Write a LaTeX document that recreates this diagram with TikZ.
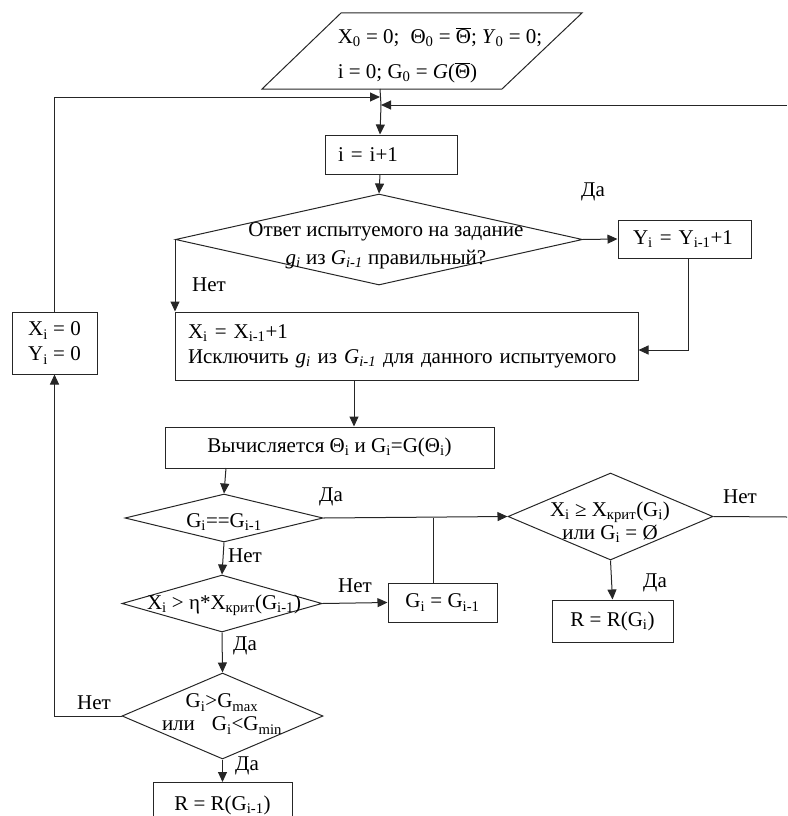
\documentclass[tikz,border=0pt]{standalone}
\usepackage{fontspec}
\setmainfont{Liberation Serif}
\usetikzlibrary{shapes.geometric,arrows.meta}
\newcommand{\sbs}[1]{\textsubscript{#1}}
\newcommand{\obar}{$\overline{\hbox{Θ}}$}
\begin{document}
\begin{tikzpicture}[x=1pt,y=-1pt,
  every node/.style={font=\fontsize{21}{25}\selectfont, inner sep=0pt},
  ln/.style={draw=black!85, line width=1pt},
  arr/.style={ln, -{Triangle[length=10pt,width=9pt]}},
  box/.style={draw=black!85, line width=1pt, rectangle},
  dia/.style={draw=black!85, line width=1pt, diamond, inner sep=0pt},
  lbl/.style={font=\fontsize{21}{22}\selectfont}]
\useasboundingbox (0,0) rectangle (787,816);

% parallelogram
\draw[ln] (341,13) -- (582,13) -- (502,89) -- (262,89) -- cycle;
\node[align=left, font=\fontsize{21}{35}\selectfont] (p) at (440,55) {X\sbs{0} = 0;\; Θ\sbs{0} = \obar; \textit{Y}\sbs{0} = 0;\\i = 0; G\sbs{0} = \textit{G}(\obar)};
\coordinate (pb) at (380,89);
\coordinate (j1) at (380,97);
\coordinate (j2) at (381,105);
\coordinate (r1) at (787,105);
\coordinate (r2) at (787,517);

% boxes
\node[box, minimum width=132pt, minimum height=39pt, inner xsep=13pt, text width=106pt, align=left] (inc) at (391,154.5) {i = i+1};
\node[dia, minimum width=407pt, minimum height=91pt] (d1) at (379,239.5) {};
\node[align=center, font=\fontsize{21}{28}\selectfont] (d1t) at (386,246) {Ответ испытуемого на задание\\\textit{g\sbs{i}} из \textit{G\sbs{i-1}} правильный?};
\node[box, minimum width=133pt, minimum height=38pt, inner xsep=15pt, text width=103pt, align=left] (yb) at (684.5,239) {Y\sbs{i} = Y\sbs{i-1}+1};
\node[box, minimum width=463pt, minimum height=68pt, inner xsep=13pt, text width=437pt, align=left] (xb) at (406.5,346) {X\sbs{i} = X\sbs{i-1}+1\\Исключить \textit{g\sbs{i}} из \textit{G\sbs{i-1}} для данного испытуемого};
\node[box, minimum width=85pt, minimum height=62pt, align=center] (xz) at (54.5,343) {X\sbs{i} = 0\\Y\sbs{i} = 0};
\node[box, minimum width=329pt, minimum height=41pt, align=center] (vb) at (329.5,447.5) {Вычисляется Θ\sbs{i} и G\sbs{i}=G(Θ\sbs{i})};

\node[dia, minimum width=198pt, minimum height=48pt] (d2) at (224,518) {};
\node (d2t) at (224,522) {G\sbs{i}==G\sbs{i-1}};
\node[dia, minimum width=205pt, minimum height=87pt] (d3) at (610.5,516.5) {};
\node[align=center, font=\fontsize{21}{23}\selectfont] (d3t) at (610,522) {X\sbs{i} ≥ X\sbs{крит}(G\sbs{i})\\или G\sbs{i} = Ø};
\node[box, minimum width=121pt, minimum height=42pt, align=center] (rb1) at (612.5,621) {R = R(G\sbs{i})};

\node[dia, minimum width=200pt, minimum height=57pt] (d4) at (222,603.5) {};
\node (d4t) at (224,605) {X\sbs{i} > η*X\sbs{крит}(G\sbs{i-1})};
\node[box, minimum width=109pt, minimum height=39pt, align=center] (gb) at (442.5,602.5) {G\sbs{i} = G\sbs{i-1}};

\node[dia, minimum width=201pt, minimum height=86pt] (d5) at (222.5,716) {};
\node[align=center, font=\fontsize{21}{23}\selectfont] (d5t) at (222,714) {G\sbs{i}>G\sbs{max}\\или\;\; G\sbs{i}<G\sbs{min}};
\node[box, minimum width=139pt, minimum height=50pt, anchor=north] (rb2) at (222.5,782) {};
\node (rb2t) at (222.5,805) {R = R(G\sbs{i-1})};

% labels
\node[lbl] (l1) at (593,192) {Да};
\node[lbl] (l2) at (209,285) {Нет};
\node[lbl] (l3) at (331,497) {Да};
\node[lbl] (l4) at (740,497) {Нет};
\node[lbl] (l5) at (655,583) {Да};
\node[lbl] (l6) at (245,556) {Нет};
\node[lbl] (l7) at (355,586) {Нет};
\node[lbl] (l8) at (245,646) {Да};
\node[lbl] (l9) at (94,703) {Нет};
\node[lbl] (l10) at (247,766) {Да};

% connectors
\draw[ln] (pb) -- (j2);
\draw[arr] (j2) -- (pb |- inc.north);
\draw[arr] (xz.north) |- (j1);
\draw[arr] (r1) -- (j2);
\draw[arr] (pb |- inc.south) -- (d1.north);
\draw[arr] (d1.east) -- (yb.west);
\coordinate (yo) at (688,258);
\draw[arr] (yo) |- (xb.east |- 0,350);
\draw[arr] (d1.west) -- (d1.west |- xb.north);
\coordinate (c1) at (354,380);
\draw[arr] (c1) -- (c1 |- vb.north);
\coordinate (c2) at (226,468);
\draw[arr] (c2) -- (d2.north);
\draw[arr] (d2.east) -- (d3.west);
\coordinate (br) at (433,518);
\draw[ln] (br) -- (br |- gb.north);
\draw[ln] (d3.east) -- (r2);
\draw[arr] (d3.south) -- (rb1.north);
\draw[arr] (d2.south) -- (d4.north);
\draw[arr] (d4.east) -- (gb.west);
\draw[arr] (d4.south) -- (d5.north);
\draw[arr] (d5.west) -| (xz.south);
\draw[arr] (d5.south) -- (rb2.north);
\end{tikzpicture}
\end{document}
